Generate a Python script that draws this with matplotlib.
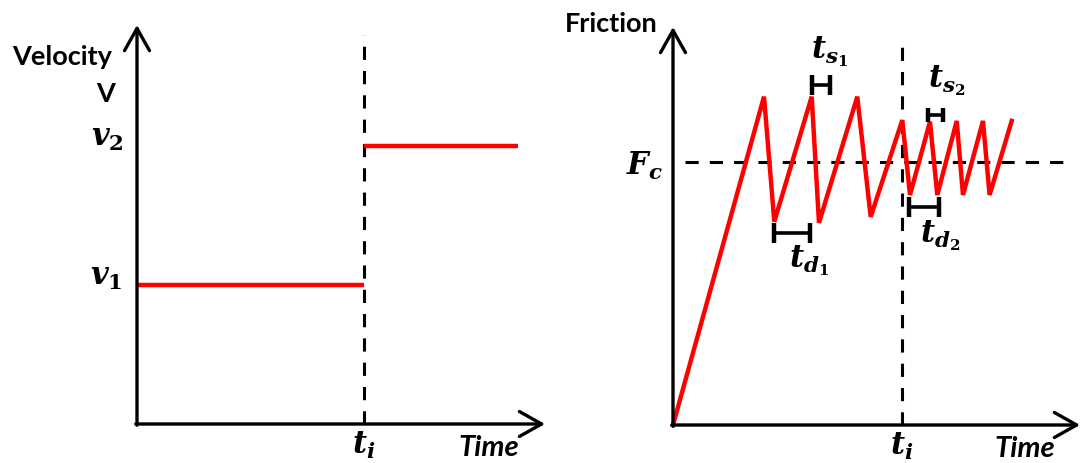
import matplotlib
matplotlib.use("Agg")
import matplotlib.pyplot as plt

plt.rcParams['mathtext.fontset'] = 'custom'
plt.rcParams['mathtext.rm'] = 'DejaVu Serif:bold'
plt.rcParams['mathtext.it'] = 'DejaVu Serif:italic:bold'
plt.rcParams['mathtext.bf'] = 'DejaVu Serif:bold'
plt.rcParams['lines.scale_dashes'] = False

# ---- data (arbitrary units, axis arrows end at 10) ----
vel_t_switch = 5.56
vel_levels = [3.49, 6.97]          # v1, v2
vel_t_end = 9.34

fric_t_switch = 5.62
fric_fc = 6.62
fric_t = [0.0, 2.236, 2.489, 3.408, 3.587, 4.528, 4.857, 5.634, 5.823,
          6.314, 6.494, 6.971, 7.125, 7.616, 7.779, 8.322]
fric_f = [0.0, 8.25, 5.11, 8.25, 5.08, 8.25, 5.23, 7.66, 5.78,
          7.62, 5.78, 7.64, 5.78, 7.64, 5.78, 7.64]
# interval markers: (x_start, x_end, y_center, half_height)
brackets = {
    'ts1': (3.408, 3.857, 8.54, 0.25),
    'td1': (2.489, 3.37, 4.82, 0.25),
    'ts2': (6.27, 6.63, 7.79, 0.17),
    'td2': (5.80, 6.54, 5.48, 0.25),
}
bracket_labels = {
    'ts1': (r'$t_{s_1}$', 3.39, 9.22),
    'ts2': (r'$t_{s_2}$', 6.27, 8.49),
    'td1': (r'$t_{d_1}$', 2.85, 3.97),
    'td2': (r'$t_{d_2}$', 6.07, 4.60),
}

W, H = 1083, 463
fig = plt.figure(figsize=(W / 100, H / 100), dpi=100)

RED = '#ff0000'
AX_LW = 2.4
MATH_FS = 22
SANS = 'Lato'


def make_axes(x0, y0, x1, y1):
    # x0,y0 = origin pixel; x1 = x arrow tip pixel; y1 = y arrow tip pixel
    ax = fig.add_axes([x0 / W, (H - y0) / H, (x1 - x0) / W, (y0 - y1) / H])
    ax.set_xlim(0, 10)
    ax.set_ylim(0, 10)
    ax.axis('off')
    arrow = dict(arrowstyle='->,head_length=0.8,head_width=0.45', lw=AX_LW,
                 color='black', shrinkA=0, shrinkB=0, mutation_scale=20)
    ax.annotate('', xy=(0, 10), xytext=(0, -0.03), arrowprops=arrow,
                annotation_clip=False)
    ax.annotate('', xy=(10, 0), xytext=(-0.03, 0), arrowprops=arrow,
                annotation_clip=False)
    return ax


dash = (0, (9.5, 8))

# ---- left panel ----
axl = make_axes(137, 424, 545, 25)
axl.plot([vel_t_switch, vel_t_switch], [0, 9.75], color='black', lw=2.2,
         linestyle=dash, clip_on=False)
axl.plot([0, vel_t_switch], [vel_levels[0]] * 2, color=RED, lw=3.2,
         solid_capstyle='butt', clip_on=False)
axl.plot([vel_t_switch, vel_t_end], [vel_levels[1]] * 2, color=RED, lw=3.2,
         solid_capstyle='butt', clip_on=False)
axl.text(-0.32, vel_levels[1], r'$v_2$', fontsize=MATH_FS, ha='right',
         va='baseline')
axl.text(-0.37, vel_levels[0], r'$v_1$', fontsize=MATH_FS, ha='right',
         va='baseline')
axl.text(vel_t_switch, -0.76, r'$t_i$', fontsize=MATH_FS, ha='center',
         va='baseline')
axl.text(7.87, -0.8, 'Time', fontsize=21, family=SANS, weight='bold',
         style='italic', ha='left', va='baseline')
axl.text(-1.84, 9.0, 'Velocity', fontsize=19.5, family=SANS, weight='bold',
         ha='center', va='baseline')
axl.text(-0.76, 8.07, 'V', fontsize=19.5, family=SANS, weight='bold',
         ha='center', va='baseline')

# ---- right panel ----
axr = make_axes(673, 425, 1080, 27)
axr.plot([fric_t_switch, fric_t_switch], [0, 9.75], color='black', lw=2.2,
         linestyle=dash, clip_on=False)
axr.plot([0.3, 9.7], [fric_fc, fric_fc], color='black', lw=2.2,
         linestyle=dash, clip_on=False)
axr.plot(fric_t, fric_f, color=RED, lw=3.2, solid_joinstyle='miter',
         clip_on=False)
for key, (xa, xb, yc, hh) in brackets.items():
    axr.plot([xa, xb], [yc, yc], color='black', lw=2.6, clip_on=False)
    for xx in (xa, xb):
        axr.plot([xx, xx], [yc - hh, yc + hh], color='black', lw=3.2,
                 solid_capstyle='butt', clip_on=False)
for key, (lab, xx, yy) in bracket_labels.items():
    axr.text(xx, yy, lab, fontsize=MATH_FS, ha='left', va='baseline')
axr.text(-0.25, 6.28, r'$F_c$', fontsize=MATH_FS, ha='right', va='baseline')
axr.text(fric_t_switch, -0.74, r'$t_i$', fontsize=MATH_FS, ha='center',
         va='baseline')
axr.text(7.89, -0.8, 'Time', fontsize=21, family=SANS, weight='bold',
         style='italic', ha='left', va='baseline')
axr.text(-1.52, 9.87, 'Friction', fontsize=19.5, family=SANS, weight='bold',
         ha='center', va='baseline')

fig.savefig('out.png', dpi=100)
